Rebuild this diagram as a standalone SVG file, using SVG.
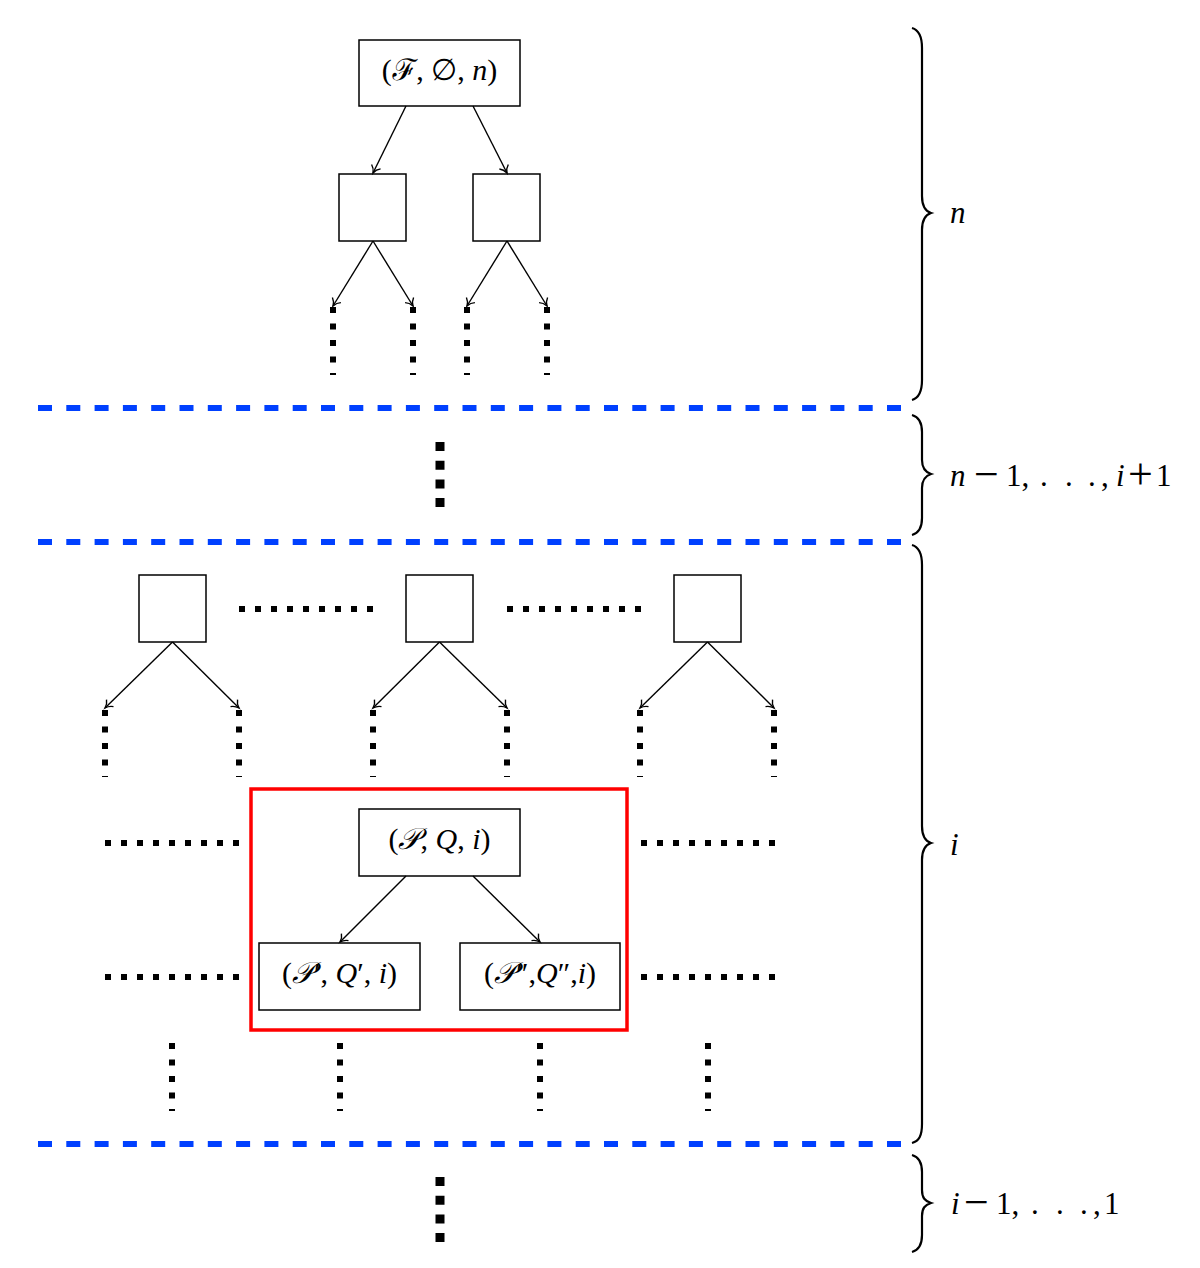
<svg xmlns="http://www.w3.org/2000/svg" width="1200" height="1268" viewBox="0 0 1200 1268">
<defs>
<marker id="to" markerUnits="userSpaceOnUse" markerWidth="20" markerHeight="20" viewBox="-10 -10 20 20" refX="0" refY="0" orient="auto">
<path d="M -7,-5 C -5,-2 -2,-0.6 0,0 C -2,0.6 -5,2 -7,5" fill="none" stroke="#000" stroke-width="1.4"/>
</marker>
</defs>
<style>
.box{fill:#fff;stroke:#000;stroke-width:1.5}
.edge{stroke:#000;stroke-width:1.4;fill:none;marker-end:url(#to)}
.vdot{stroke:#000;stroke-width:6;stroke-dasharray:6 10.5;fill:none}
.hdot{stroke:#000;stroke-width:6;stroke-dasharray:6 10;fill:none}
.big{stroke:#000;stroke-width:9;stroke-dasharray:9 9.7;fill:none}
.blue{stroke:#0040ff;stroke-width:6;stroke-dasharray:14 14.3;fill:none}
.brace{stroke:#000;stroke-width:2.2;fill:none}
.lbl{font-family:"Liberation Serif","DejaVu Serif",serif;font-size:30px;fill:#000}
.side{font-family:"Liberation Serif","DejaVu Serif",serif;font-size:31px;fill:#000}
.op{font-size:44px}
.it{font-style:italic}
.scr{font-family:"DejaVu Serif","Noto Sans",serif;font-style:italic}
</style>

<g id="levels">
<line class="blue" x1="38" y1="408" x2="902" y2="408"/>
<line class="blue" x1="38" y1="542" x2="902" y2="542"/>
<line class="blue" x1="38" y1="1144" x2="902" y2="1144"/>
</g>

<g id="braces">
<path class="brace" d="M 912,28 C 919,30 922,36 922,48 L 922,196 C 922,206 925,211 931,213 C 925,215 922,220 922,230 L 922,380 C 922,392 919,398 912,400"/>
<path class="brace" d="M 912,415 C 919,417 922,422 922,432 L 922,460 C 922,468 925,472 931,474 C 925,476 922,480 922,488 L 922,518 C 922,528 919,533 912,535"/>
<path class="brace" d="M 912,545 C 919,547 922,553 922,565 L 922,826 C 922,836 925,841 931,843 C 925,845 922,850 922,860 L 922,1124 C 922,1136 919,1141 912,1143"/>
<path class="brace" d="M 912,1155 C 919,1157 922,1162 922,1172 L 922,1190 C 922,1198 925,1201 931,1203 C 925,1205 922,1208 922,1216 L 922,1235 C 922,1245 919,1250 912,1252"/>
</g>

<g id="side-labels">
<text class="side it" x="950" y="223">n</text>
<text class="side" y="486"><tspan class="it" x="950">n</tspan><tspan x="1006">1,</tspan><tspan x="1040">.</tspan><tspan x="1065">.</tspan><tspan x="1088">.</tspan><tspan x="1101">,</tspan><tspan class="it" x="1116">i</tspan><tspan x="1156">1</tspan></text>
<text class="side op" x="974" y="489">−</text>
<text class="side op" x="1128" y="489">+</text>
<text class="side it" x="950" y="855">i</text>
<text class="side" y="1214"><tspan class="it" x="951">i</tspan><tspan x="996">1,</tspan><tspan x="1031">.</tspan><tspan x="1056">.</tspan><tspan x="1080">.</tspan><tspan x="1093">,</tspan><tspan x="1104">1</tspan></text>
<text class="side op" x="964" y="1217">−</text>
</g>

<g id="root">
<rect class="box" x="359" y="40" width="161" height="66"/>
<text class="lbl" x="439.5" y="80" text-anchor="middle">(<tspan class="scr">ℱ</tspan>, ∅, <tspan class="it">n</tspan>)</text>
</g>
<g id="top-left"><rect class="box" x="339" y="174" width="67" height="67"/></g>
<g id="top-right"><rect class="box" x="473" y="174" width="67" height="67"/></g>

<g id="mid-a"><rect class="box" x="139" y="575" width="67" height="67"/></g>
<g id="mid-b"><rect class="box" x="406" y="575" width="67" height="67"/></g>
<g id="mid-c"><rect class="box" x="674" y="575" width="67" height="67"/></g>

<g id="highlight">
<rect x="251" y="789" width="376" height="241" fill="none" stroke="#ff0000" stroke-width="3.5"/>
</g>
<g id="pqi">
<rect class="box" x="359" y="809" width="161" height="67"/>
<text class="lbl" x="439.5" y="849" text-anchor="middle">(<tspan class="scr">𝒫</tspan>, <tspan class="it">Q</tspan>, <tspan class="it">i</tspan>)</text>
</g>
<g id="pqi1">
<rect class="box" x="259" y="943" width="161" height="67"/>
<text class="lbl" x="339.5" y="983" text-anchor="middle">(<tspan class="scr">𝒫</tspan>′, <tspan class="it">Q</tspan>′, <tspan class="it">i</tspan>)</text>
</g>
<g id="pqi2">
<rect class="box" x="460" y="943" width="160" height="67"/>
<text class="lbl" x="540" y="983" text-anchor="middle">(<tspan class="scr">𝒫</tspan>″,<tspan class="it">Q</tspan>″,<tspan class="it">i</tspan>)</text>
</g>

<g id="connectors">
<line class="edge" x1="406" y1="106" x2="373" y2="173"/>
<line class="edge" x1="473" y1="106" x2="507" y2="173"/>
<line class="edge" x1="373" y1="241" x2="333" y2="306"/>
<line class="edge" x1="373" y1="241" x2="413" y2="306"/>
<line class="edge" x1="507" y1="241" x2="467" y2="306"/>
<line class="edge" x1="507" y1="241" x2="547" y2="306"/>
<line class="edge" x1="172.5" y1="642" x2="105" y2="708"/>
<line class="edge" x1="172.5" y1="642" x2="239" y2="708"/>
<line class="edge" x1="439.5" y1="642" x2="373" y2="708"/>
<line class="edge" x1="439.5" y1="642" x2="507" y2="708"/>
<line class="edge" x1="707.5" y1="642" x2="640" y2="708"/>
<line class="edge" x1="707.5" y1="642" x2="774" y2="708"/>
<line class="edge" x1="406" y1="876" x2="340" y2="942"/>
<line class="edge" x1="473" y1="876" x2="540" y2="942"/>
</g>

<g id="ellipses">
<line class="vdot" x1="333" y1="307" x2="333" y2="375"/>
<line class="vdot" x1="413" y1="307" x2="413" y2="375"/>
<line class="vdot" x1="467" y1="307" x2="467" y2="375"/>
<line class="vdot" x1="547" y1="307" x2="547" y2="375"/>
<line class="big" x1="440" y1="442" x2="440" y2="508"/>
<line class="hdot" x1="239" y1="609" x2="375" y2="609"/>
<line class="hdot" x1="507" y1="609" x2="643" y2="609"/>
<line class="vdot" x1="105" y1="710" x2="105" y2="777"/>
<line class="vdot" x1="239" y1="710" x2="239" y2="777"/>
<line class="vdot" x1="373" y1="710" x2="373" y2="777"/>
<line class="vdot" x1="507" y1="710" x2="507" y2="777"/>
<line class="vdot" x1="640" y1="710" x2="640" y2="777"/>
<line class="vdot" x1="774" y1="710" x2="774" y2="777"/>
<line class="hdot" x1="105" y1="843" x2="241" y2="843"/>
<line class="hdot" x1="641" y1="843" x2="777" y2="843"/>
<line class="hdot" x1="105" y1="977" x2="241" y2="977"/>
<line class="hdot" x1="641" y1="977" x2="777" y2="977"/>
<line class="vdot" x1="172" y1="1043" x2="172" y2="1111"/>
<line class="vdot" x1="340" y1="1043" x2="340" y2="1111"/>
<line class="vdot" x1="540" y1="1043" x2="540" y2="1111"/>
<line class="vdot" x1="708" y1="1043" x2="708" y2="1111"/>
<line class="big" x1="440" y1="1177" x2="440" y2="1243"/>
</g>
</svg>
